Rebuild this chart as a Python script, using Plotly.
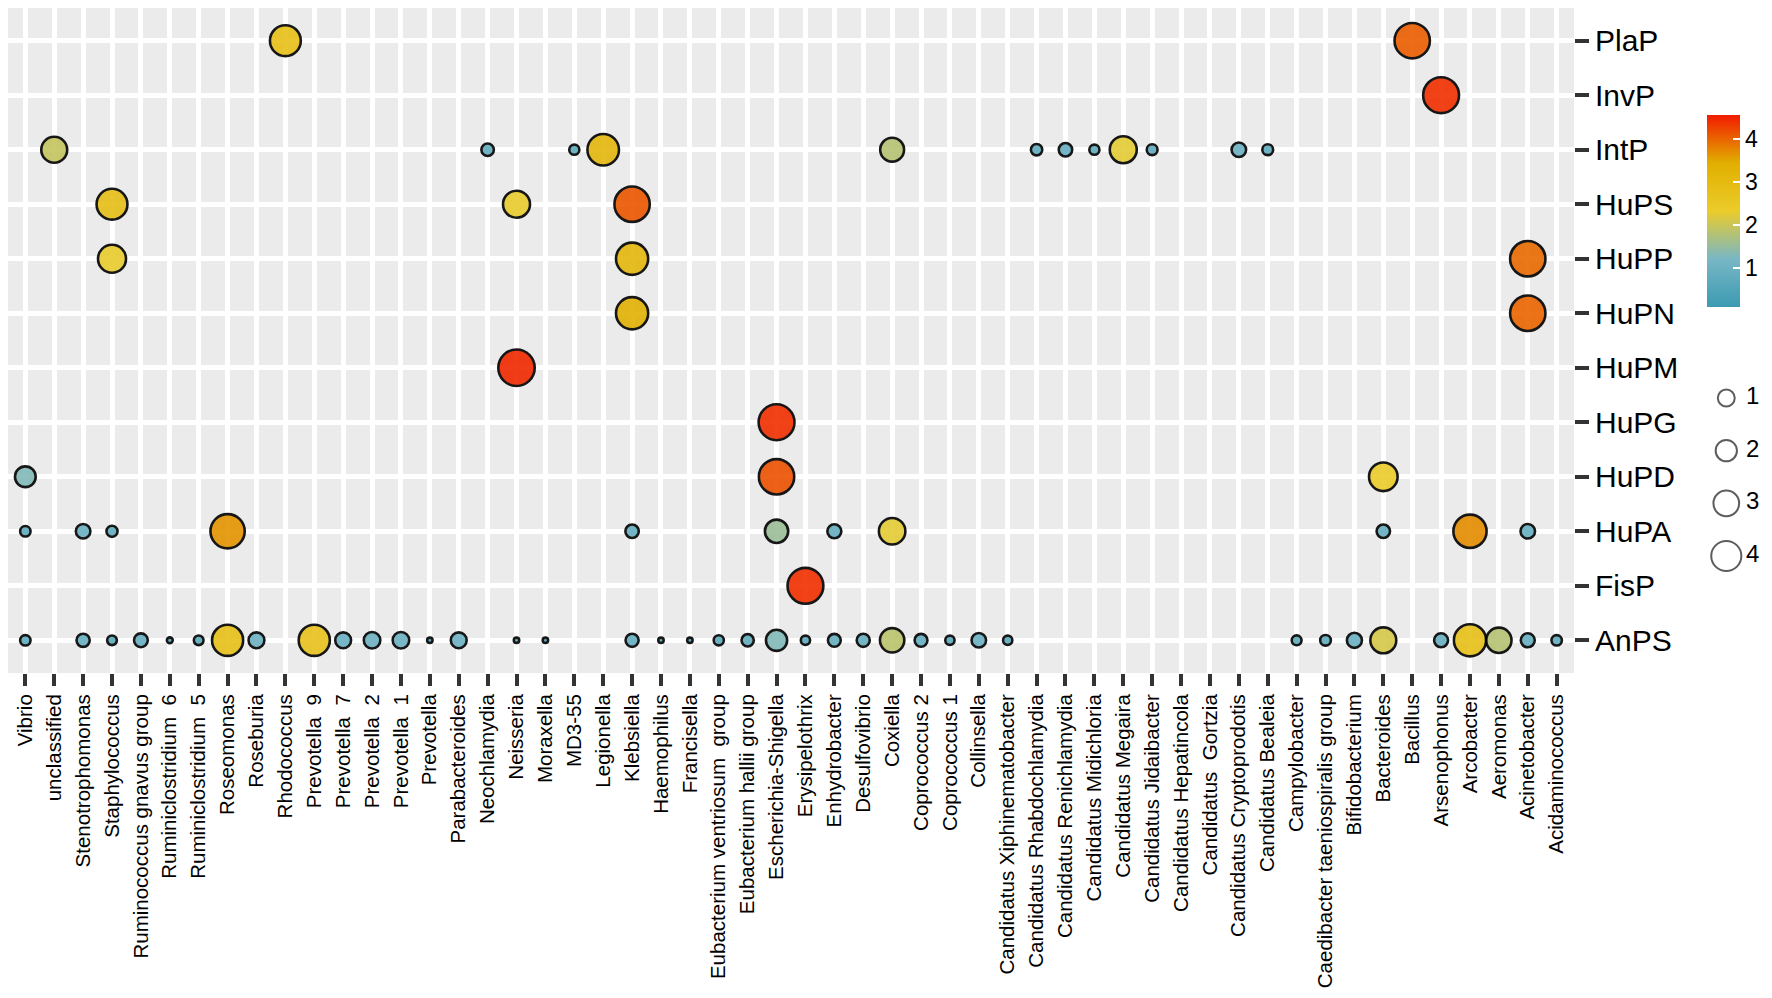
import plotly.graph_objects as go

# x categories (genera), left to right
genera = [
    "Vibrio", "unclassified", "Stenotrophomonas", "Staphylococcus",
    "Ruminococcus gnavus group", "Ruminiclostridium\u00a0 6", "Ruminiclostridium\u00a0 5",
    "Roseomonas", "Roseburia", "Rhodococcus", "Prevotella\u00a0 9", "Prevotella\u00a0 7",
    "Prevotella\u00a0 2", "Prevotella\u00a0 1", "Prevotella", "Parabacteroides",
    "Neochlamydia", "Neisseria", "Moraxella", "MD3-55", "Legionella", "Klebsiella",
    "Haemophilus", "Francisella", "Eubacterium ventriosum\u00a0 group",
    "Eubacterium hallii group", "Escherichia-Shigella", "Erysipelothrix",
    "Enhydrobacter", "Desulfovibrio", "Coxiella", "Coprococcus 2", "Coprococcus 1",
    "Collinsella", "Candidatus Xiphinematobacter", "Candidatus Rhabdochlamydia",
    "Candidatus Renichlamydia", "Candidatus Midichloria", "Candidatus Megaira",
    "Candidatus Jidaibacter", "Candidatus Hepatincola", "Candidatus\u00a0 Gortzia",
    "Candidatus Cryptoprodotis", "Candidatus Bealeia", "Campylobacter",
    "Caedibacter taeniospiralis group", "Bifidobacterium", "Bacteroides", "Bacillus",
    "Arsenophonus", "Arcobacter", "Aeromonas", "Acinetobacter", "Acidaminococcus",
]

# y categories, bottom to top
groups = ["AnPS", "FisP", "HuPA", "HuPD", "HuPG", "HuPM", "HuPN", "HuPP", "HuPS",
          "IntP", "InvP", "PlaP"]

# bubbles: group, genus index, size value, colour value
pt_group = (
    ["PlaP"] * 2 + ["InvP"] + ["IntP"] * 12 + ["HuPS"] * 3 + ["HuPP"] * 3
    + ["HuPN"] * 2 + ["HuPM"] + ["HuPG"] + ["HuPD"] * 3 + ["HuPA"] * 11
    + ["FisP"] + ["AnPS"] * 39
)
pt_genus = [
    9, 48,
    49,
    1, 16, 19, 20, 30, 35, 36, 37, 38, 39, 42, 43,
    3, 17, 21,
    3, 21, 52,
    21, 52,
    17,
    26,
    0, 26, 47,
    0, 2, 3, 7, 21, 26, 28, 30, 47, 50, 52,
    27,
    0, 2, 3, 4, 5, 6, 7, 8, 10, 11, 12, 13, 14, 15, 17, 18, 21, 22, 23, 24,
    25, 26, 27, 28, 29, 30, 31, 32, 33, 34, 44, 45, 46, 47, 49, 50, 51, 52, 53,
]
pt_size = [
    3.40, 4.28,
    4.39,
    2.56, 0.95, 0.77, 3.53, 2.25, 0.86, 1.03, 0.77, 2.73, 0.82, 1.13, 0.82,
    3.40, 2.73, 4.28,
    2.90, 3.65, 4.28,
    3.65, 4.28,
    4.50,
    4.39,
    1.82, 4.28, 3.00,
    0.79, 1.13, 0.84, 4.06, 1.03, 2.17, 1.08, 2.65, 1.03, 3.85, 1.13,
    4.39,
    0.79, 1.01, 0.74, 1.06, 0.52, 0.74, 3.45, 1.26, 3.45, 1.26, 1.33, 1.33, 0.50,
    1.26, 0.50, 0.50, 1.00, 0.50, 0.50, 0.77, 0.93, 1.88, 0.71, 0.98, 1.00, 2.32,
    0.98, 0.71, 1.13, 0.71, 0.75, 0.81, 1.18, 2.56, 1.08, 3.65, 2.46, 1.08, 0.79,
]
pt_score = [
    2.80, 4.05,
    4.40,
    1.95, 0.80, 0.70, 3.10, 1.80, 0.75, 0.85, 0.75, 2.25, 0.75, 0.95, 0.75,
    2.85, 2.30, 4.10,
    2.30, 3.15, 3.95,
    3.35, 4.00,
    4.45,
    4.40,
    1.30, 4.15, 2.35,
    0.75, 0.95, 0.80, 3.65, 0.85, 1.55, 0.85, 2.25, 0.85, 3.70, 0.90,
    4.40,
    0.75, 0.90, 0.70, 0.90, 0.60, 0.70, 2.80, 1.00, 2.70, 0.95, 1.00, 1.00, 0.60,
    1.00, 0.60, 0.60, 0.85, 0.60, 0.60, 0.70, 0.80, 1.30, 0.70, 0.85, 0.85, 1.85,
    0.85, 0.70, 0.95, 0.70, 0.70, 0.75, 0.95, 2.10, 0.90, 2.80, 1.80, 0.90, 0.75,
]
size_breaks = [1, 2, 3, 4]
score_ticks = [1, 2, 3, 4]

zissou = [[0, "#3B9AB2"], [0.25, "#78B7C5"], [0.5, "#EBCC2A"], [0.75, "#E1AF00"], [1, "#F21A00"]]
font = "Liberation Sans, Arial, sans-serif"
stroke = 2.6


def bubble_px(s):
    # area grows linearly with the value, 8px at 0.5 up to 39px at 4.5
    return (64 + (s - 0.5) / 4.0 * (39 ** 2 - 64)) ** 0.5 - stroke


def legend_px(s):
    return 14.5 + 4.4 * s - 2


fig = go.Figure()

fig.add_trace(go.Scatter(
    x=[genera[i] for i in pt_genus], y=pt_group, mode="markers",
    marker=dict(
        size=[bubble_px(s) for s in pt_size], color=pt_score,
        colorscale=zissou, cmin=0.1, cmax=4.55, opacity=0.9,
        line=dict(color="black", width=stroke),
        colorbar=dict(
            x=0.9675, xanchor="left", y=0.6947, yanchor="middle", len=0.2887,
            thickness=33, outlinewidth=0, xpad=0, ypad=0,
            tickvals=score_ticks, ticks="inside", ticklen=7, tickwidth=1.5,
            tickcolor="white", tickfont=dict(size=23, color="black", family=font),
        ),
    ),
    showlegend=False, xaxis="x", yaxis="y",
))

# size legend
fig.add_trace(go.Scatter(
    x=[0.41] * len(size_breaks), y=size_breaks, mode="markers",
    marker=dict(size=[legend_px(s) for s in size_breaks], color="rgba(0,0,0,0)",
                line=dict(color="#1a1a1a", width=2)),
    showlegend=False, xaxis="x2", yaxis="y2", hoverinfo="skip", cliponaxis=False,
))
fig.add_trace(go.Scatter(
    x=[0.72] * len(size_breaks), y=size_breaks, mode="text",
    text=[str(s) for s in size_breaks], textposition="middle right",
    textfont=dict(size=24, color="black", family=font),
    showlegend=False, xaxis="x2", yaxis="y2", hoverinfo="skip", cliponaxis=False,
))

fig.add_shape(type="rect", xref="x domain", yref="y domain", x0=0, x1=1, y0=0, y1=1,
              fillcolor="#EBEBEB", line=dict(width=0), layer="below")

# page body keeps an 8px margin, so the figure is 16px smaller than the window
fig.update_layout(
    width=1756, height=982,
    margin=dict(l=0, r=0, t=0, b=317, autoexpand=False),
    paper_bgcolor="white", plot_bgcolor="white",
    font=dict(family=font, color="black"),
    xaxis=dict(
        domain=[0, 0.8918], type="category", categoryorder="array", categoryarray=genera,
        range=[-0.6, len(genera) - 0.4], showgrid=True, gridcolor="white", gridwidth=5,
        zeroline=False, showline=False, ticks="outside", ticklen=12, tickwidth=4,
        tickcolor="#333333", tickangle=-90, tickfont=dict(size=20.5, color="black"),
        automargin=False, fixedrange=True,
    ),
    yaxis=dict(
        domain=[0, 1], type="category", categoryorder="array", categoryarray=groups,
        range=[-0.6, len(groups) - 0.4], side="right", showgrid=True,
        gridcolor="white", gridwidth=5, zeroline=False, showline=False,
        ticks="outside", ticklen=14, tickwidth=4, tickcolor="#333333",
        tickfont=dict(size=30, color="black"), automargin=False, fixedrange=True,
    ),
    xaxis2=dict(domain=[0.9636, 1.0], anchor="y2", range=[0, 1], visible=False,
                fixedrange=True),
    yaxis2=dict(domain=[0.1474, 0.4406], anchor="x2", range=[4.36, 0.658],
                visible=False, fixedrange=True),
)

fig.write_html("out.html")
